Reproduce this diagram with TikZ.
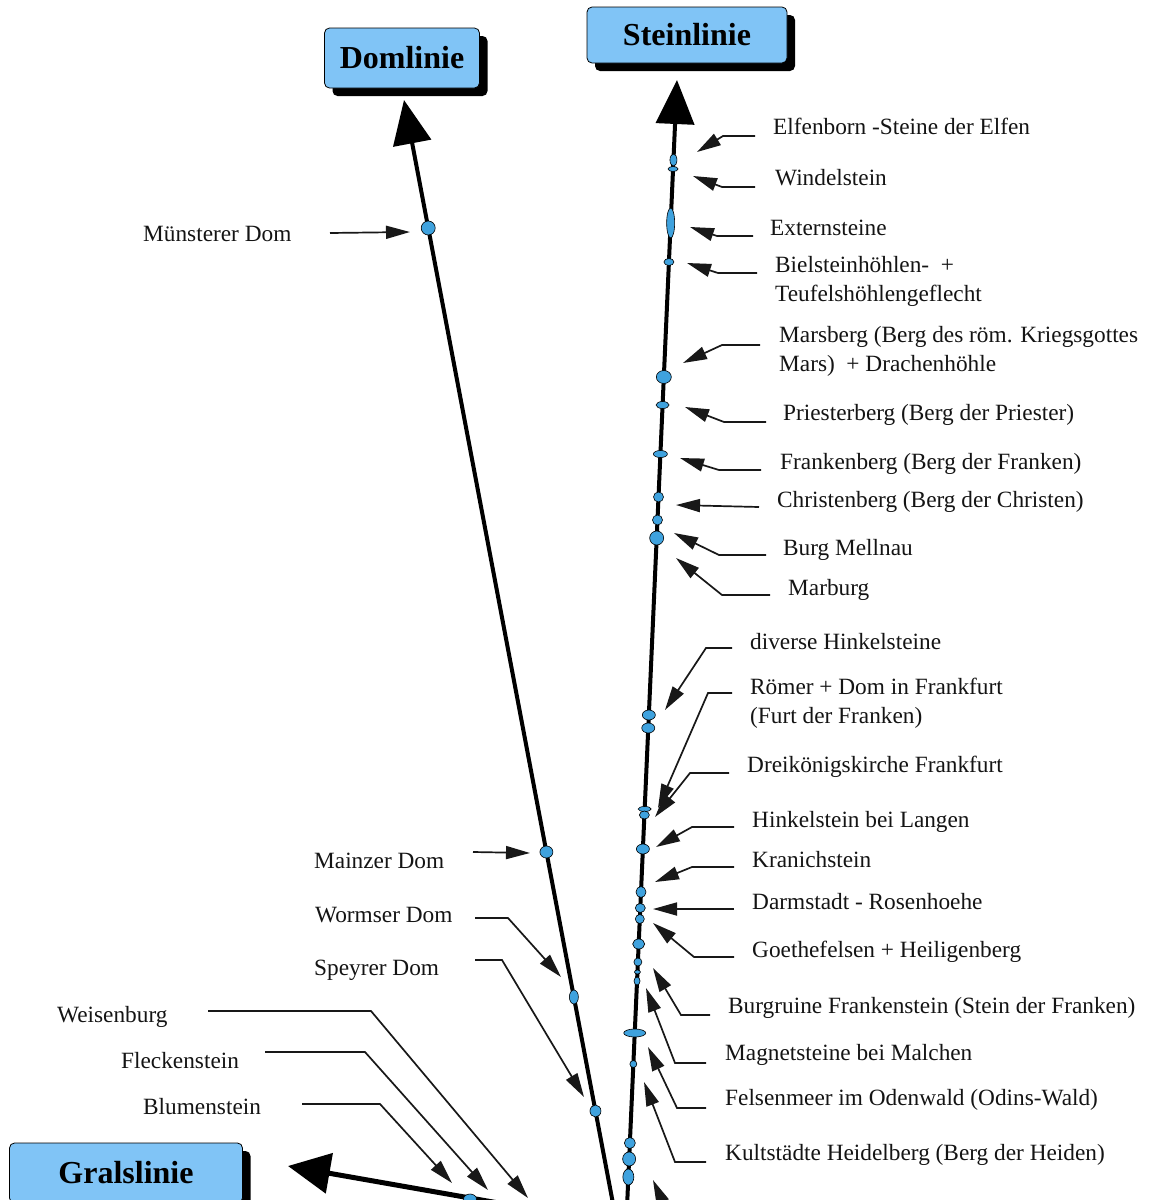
\documentclass[tikz,border=0pt]{standalone}
\usepackage{fontspec}
\setmainfont{Liberation Serif}
\usepackage{xcolor,tikz}
\usetikzlibrary{calc,arrows.meta,shapes.geometric,shadows}
\definecolor{lineBoxFill}{HTML}{80C4F6}
\definecolor{siteDotFill}{HTML}{3FA2DE}
\definecolor{labelInk}{HTML}{141414}
\definecolor{pointerInk}{HTML}{181818}

\tikzset{
  linebox/.style={draw=black, line width=0.8pt, fill=lineBoxFill,
    rounded corners=5pt, inner sep=0pt,
    font=\fontsize{32}{36}\selectfont\bfseries,
    drop shadow={shadow xshift=8pt, shadow yshift=-8pt, fill=black, opacity=1}},
  mainline/.style={line width=4pt, -{Triangle[length=44pt,width=38pt]}},
  sitedot/.style={ellipse, draw=black, line width=0.6pt, fill=siteDotFill,
    inner sep=0pt},
  sitelabel/.style={anchor=base west, inner sep=0pt, align=left,
    text=labelInk, font=\fontsize{23.3}{29}\selectfont},
  pointer/.style={draw=pointerInk, line width=1.7pt,
    -{Triangle[length=24pt,width=13pt]}},
}

\begin{document}
\begin{tikzpicture}[x=1pt,y=-1pt]

% --- CANVAS (pixel grid of the reference) ---
\useasboundingbox (0,0) rectangle (1154,1200);
\clip (0,0) rectangle (1154,1200);
\fill[white] (0,0) rectangle (1154,1200);

% --- LINE ENDS ---
\coordinate (domTip)    at (404,100);
\coordinate (domFoot)   at (618,1230);
\coordinate (steinTip)  at (677,80);
\coordinate (steinFoot) at (626,1230);
\coordinate (gralTip)   at (288,1166);
\coordinate (gralFoot)  at (510,1205);

% --- THE THREE LINES ---
\draw[mainline] (domFoot) -- (domTip);
\draw[mainline] (steinFoot) -- (steinTip);
\draw[mainline, line width=5pt, -{Triangle[length=42pt,width=40pt]}]
  (gralFoot) -- (gralTip);

% --- TITLE BOXES ---
\node[linebox, minimum width=155pt, minimum height=60pt] (domBox)
  at (402,58) {Domlinie};
\node[linebox, minimum width=200pt, minimum height=56pt] (steinBox)
  at (687,35) {Steinlinie};
\node[linebox, minimum width=233pt, minimum height=60pt] (gralBox)
  at (126,1173) {Gralslinie};

% --- SITE DOTS ---
% y of the dot / width / height, x follows the line
\foreach \y/\w/\h [count=\k] in {228/14pt/14pt, 852/13pt/12pt,
    997/9pt/14pt, 1111/11pt/12pt}
  \node[sitedot, minimum width=\w, minimum height=\h] (domDot\k)
    at ($(domTip)!{(\y-100)/1130}!(domFoot)$) {};

\foreach \y/\w/\h [count=\k] in {160/7pt/12pt, 169/10pt/5pt, 223/8pt/30pt,
    262/10pt/7pt, 377/15pt/13pt, 405/13pt/7pt, 454/14pt/7pt, 497/10pt/10pt,
    520/10pt/10pt, 538/14pt/14pt, 715/13pt/10pt, 728/13pt/10pt,
    809/13pt/5pt, 815/10pt/8pt, 849/13pt/10pt, 892/10pt/11pt,
    908/10pt/9pt, 919/9pt/9pt, 944/12pt/10pt, 962/8pt/8pt, 972/6pt/4pt,
    981/6pt/8pt, 1033/22pt/8pt, 1064/7pt/7pt, 1143/11pt/11pt,
    1159/13pt/14pt, 1177/11pt/16pt}
  \node[sitedot, minimum width=\w, minimum height=\h] (steinDot\k)
    at ($(steinTip)!{(\y-80)/1150}!(steinFoot)$) {};

\node[sitedot, minimum width=13pt, minimum height=10pt] (gralDot)
  at (470,1199) {};

% --- LABELS + POINTERS ---
% name / text x / baseline (of last line) / start x / start y / bend x / tip x / tip y / text
\foreach \n/\tx/\ty/\sx/\sy/\bx/\px/\py/\txt in {
  elfen/773/134/755/136/723/697/152/{Elfenborn -Steine der Elfen},
  windel/775/185/755/187/722/693/176/{Windelstein},
  extern/770/235/753/236/717/690/227/{Externsteine},
  biel/775/301/757/273/718/687/263/{Bielsteinhöhlen-\enspace+\\Teufelshöhlengeflecht},
  mars/779/371/760/345/722/683/363/{Marsberg (Berg des röm. Kriegsgottes\\Mars)\enspace+ Drachenhöhle},
  priester/783/420/766/422/724/685/407/{Priesterberg (Berg der Priester)},
  franken/780/469/761/470/719/680/458/{Frankenberg (Berg der Franken)},
  christen/777/507/759/507/759/676/505/{Christenberg (Berg der Christen)},
  mellnau/783/555/766/555/719/674/533/{Burg Mellnau},
  marburg/788/595/770/595/722/676/558/{Marburg},
  hinkel/750/649/732/648/706/665/710/{diverse Hinkelsteine},
  roemer/750/723/732/693/708/658/808/{Römer + Dom in Frankfurt\\(Furt der Franken)},
  dreik/747/772/729/773/690/655/817/{Dreikönigskirche Frankfurt},
  langen/752/827/734/827/692/656/847/{Hinkelstein bei Langen},
  kranich/752/867/734/867/692/655/882/{Kranichstein},
  rosen/752/909/734/909/734/653/909/{Darmstadt - Rosenhoehe},
  goethe/752/957/734/957/694/653/923/{Goethefelsen + Heiligenberg},
  frankstein/728/1013/710/1015/681/653/968/{Burgruine Frankenstein (Stein der Franken)},
  magnet/725/1060/706/1063/675/646/988/{Magnetsteine bei Malchen},
  felsen/725/1105/706/1108/677/648/1047/{Felsenmeer im Odenwald (Odins-Wald)},
  heidel/725/1160/706/1162/675/644/1082/{Kultstädte Heidelberg (Berg der Heiden)},
  muenster/143/241/330/233/330/410/232/{Münsterer Dom},
  mainz/314/868/473/852/473/530/853/{Mainzer Dom},
  worms/315/922/475/918/508/561/977/{Wormser Dom},
  speyer/314/975/475/960/502/584/1097/{Speyrer Dom},
  weisen/57/1022/208/1011/371/528/1198/{Weisenburg},
  flecken/121/1068/265/1052/365/488/1190/{Fleckenstein},
  blumen/143/1114/302/1104/380/452/1183/{Blumenstein}%
}{
  \node[sitelabel] (lab-\n) at (\tx,\ty) {\txt};
  \coordinate (from-\n) at (\sx,\sy);
  \coordinate (bend-\n) at (\bx,\sy);
  \coordinate (to-\n) at (\px,\py);
  \draw[pointer] (from-\n) -- (bend-\n) -- (to-\n);
}

% --- POINTER FROM BELOW THE EDGE ---
\coordinate (from-edge) at (668,1214);
\coordinate (to-edge) at (653,1180);
\draw[pointer] (from-edge) -- (to-edge);

\end{tikzpicture}
\end{document}
